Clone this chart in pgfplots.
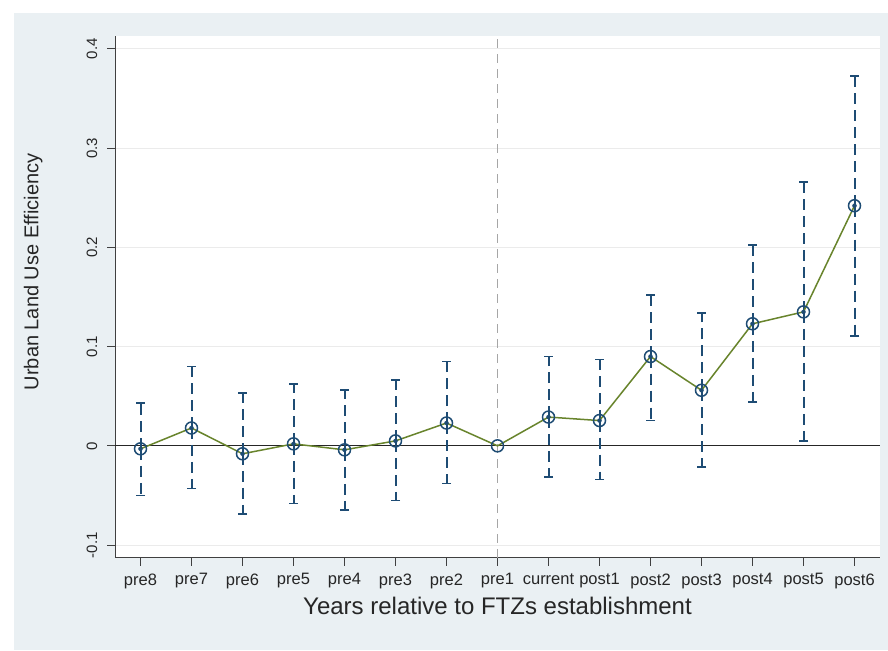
\documentclass[border=0pt]{standalone}
\usepackage{fontspec}
\setmainfont{Liberation Sans}
\usepackage{pgfplots}
\pgfplotsset{compat=1.18}
\usepackage{pgfplotstable}
\definecolor{bgc}{HTML}{EAF0F3}
\definecolor{stnavy}{HTML}{1E4C74}
\definecolor{olv}{RGB}{104,132,44}
\pgfplotstableread{
x y lo hi
0 -0.003 -0.050 0.043
1 0.018 -0.043 0.080
2 -0.008 -0.069 0.053
3 0.002 -0.058 0.062
4 -0.004 -0.065 0.056
5 0.005 -0.055 0.066
6 0.023 -0.038 0.085
8 0.029 -0.031 0.090
9 0.0255 -0.034 0.087
10 0.090 0.0255 0.152
11 0.056 -0.021 0.134
12 0.123 0.044 0.202
13 0.135 0.005 0.266
14 0.242 0.111 0.373
}\ci
\pgfplotstableread{
x y
0 -0.003
1 0.018
2 -0.008
3 0.002
4 -0.004
5 0.005
6 0.023
7 0.000
8 0.029
9 0.0255
10 0.090
11 0.056
12 0.123
13 0.135
14 0.242
}\main
\begin{document}
\begin{tikzpicture}[x=1pt,y=1pt]
\fill[white] (0,0) rectangle (888,650);
\fill[bgc] (14,0) rectangle (888,637);
\begin{axis}[
  at={(115pt,92pt)}, anchor=south west,
  scale only axis, width=765pt, height=522pt,
  xmin=-0.5, xmax=14.5, ymin=-0.113, ymax=0.413,
  axis background/.style={fill=white},
  axis x line*=bottom, axis y line*=left,
  axis line style={draw=black!75, line width=1pt},
  tick align=outside, major tick length=8pt,
  tick style={draw=black!75, line width=1pt},
  xtick={0,...,14},
  xticklabels={pre8,pre7,pre6,pre5,pre4,pre3,pre2,pre1,current,post1,post2,post3,post4,post5,post6},
  ytick={-0.1,0,0.1,0.2,0.3,0.4},
  yticklabel={\pgfmathprintnumber[fixed,precision=1,assume math mode=true]{\tick}},
  ymajorgrids,
  grid style={draw=black!8, line width=0.8pt},
  yticklabel style={anchor=base, rotate=90, font=\fontsize{15}{15}\selectfont, text=black!85},
  yticklabel shift=10pt,
  xticklabel style={font=\fontsize{16.5}{16.5}\selectfont, text=black!85},
  xticklabel shift=4pt,
  ylabel={Urban Land Use Efficiency},
  ylabel style={at={(axis description cs:-0.090,0.548)}, anchor=south, rotate=0, font=\fontsize{20}{20}\selectfont, text=black!85},
  xlabel={Years relative to FTZs establishment},
  xlabel style={at={(axis description cs:0.5,-0.1073)}, anchor=base, font=\fontsize{24}{24}\selectfont, text=black!85},
  clip=false,
]
\addplot[black!85, line width=1.2pt, forget plot] coordinates {(-0.5,0) (14.5,0)};
\addplot[black!35, line width=1pt, dash pattern=on 9pt off 6pt, forget plot] coordinates {(7,-0.113) (7,0.413)};
\addplot[stnavy, only marks, mark=none, forget plot,
  error bars/.cd, y dir=both, y explicit,
  error bar style={draw=stnavy, line width=2pt, dash pattern=on 11pt off 6pt},
  error mark options={draw=stnavy, solid, rotate=90, mark size=4.5pt, line width=1.8pt}]
  table[x=x, y=y, y error plus expr=\thisrow{hi}-\thisrow{y}, y error minus expr=\thisrow{y}-\thisrow{lo}] {\ci};
\addplot[olv, line width=1.5pt, mark=o, mark size=6pt, mark options={draw=stnavy, line width=1.5pt, solid}] table[x=x, y=y] {\main};
\end{axis}
\end{tikzpicture}
\end{document}
